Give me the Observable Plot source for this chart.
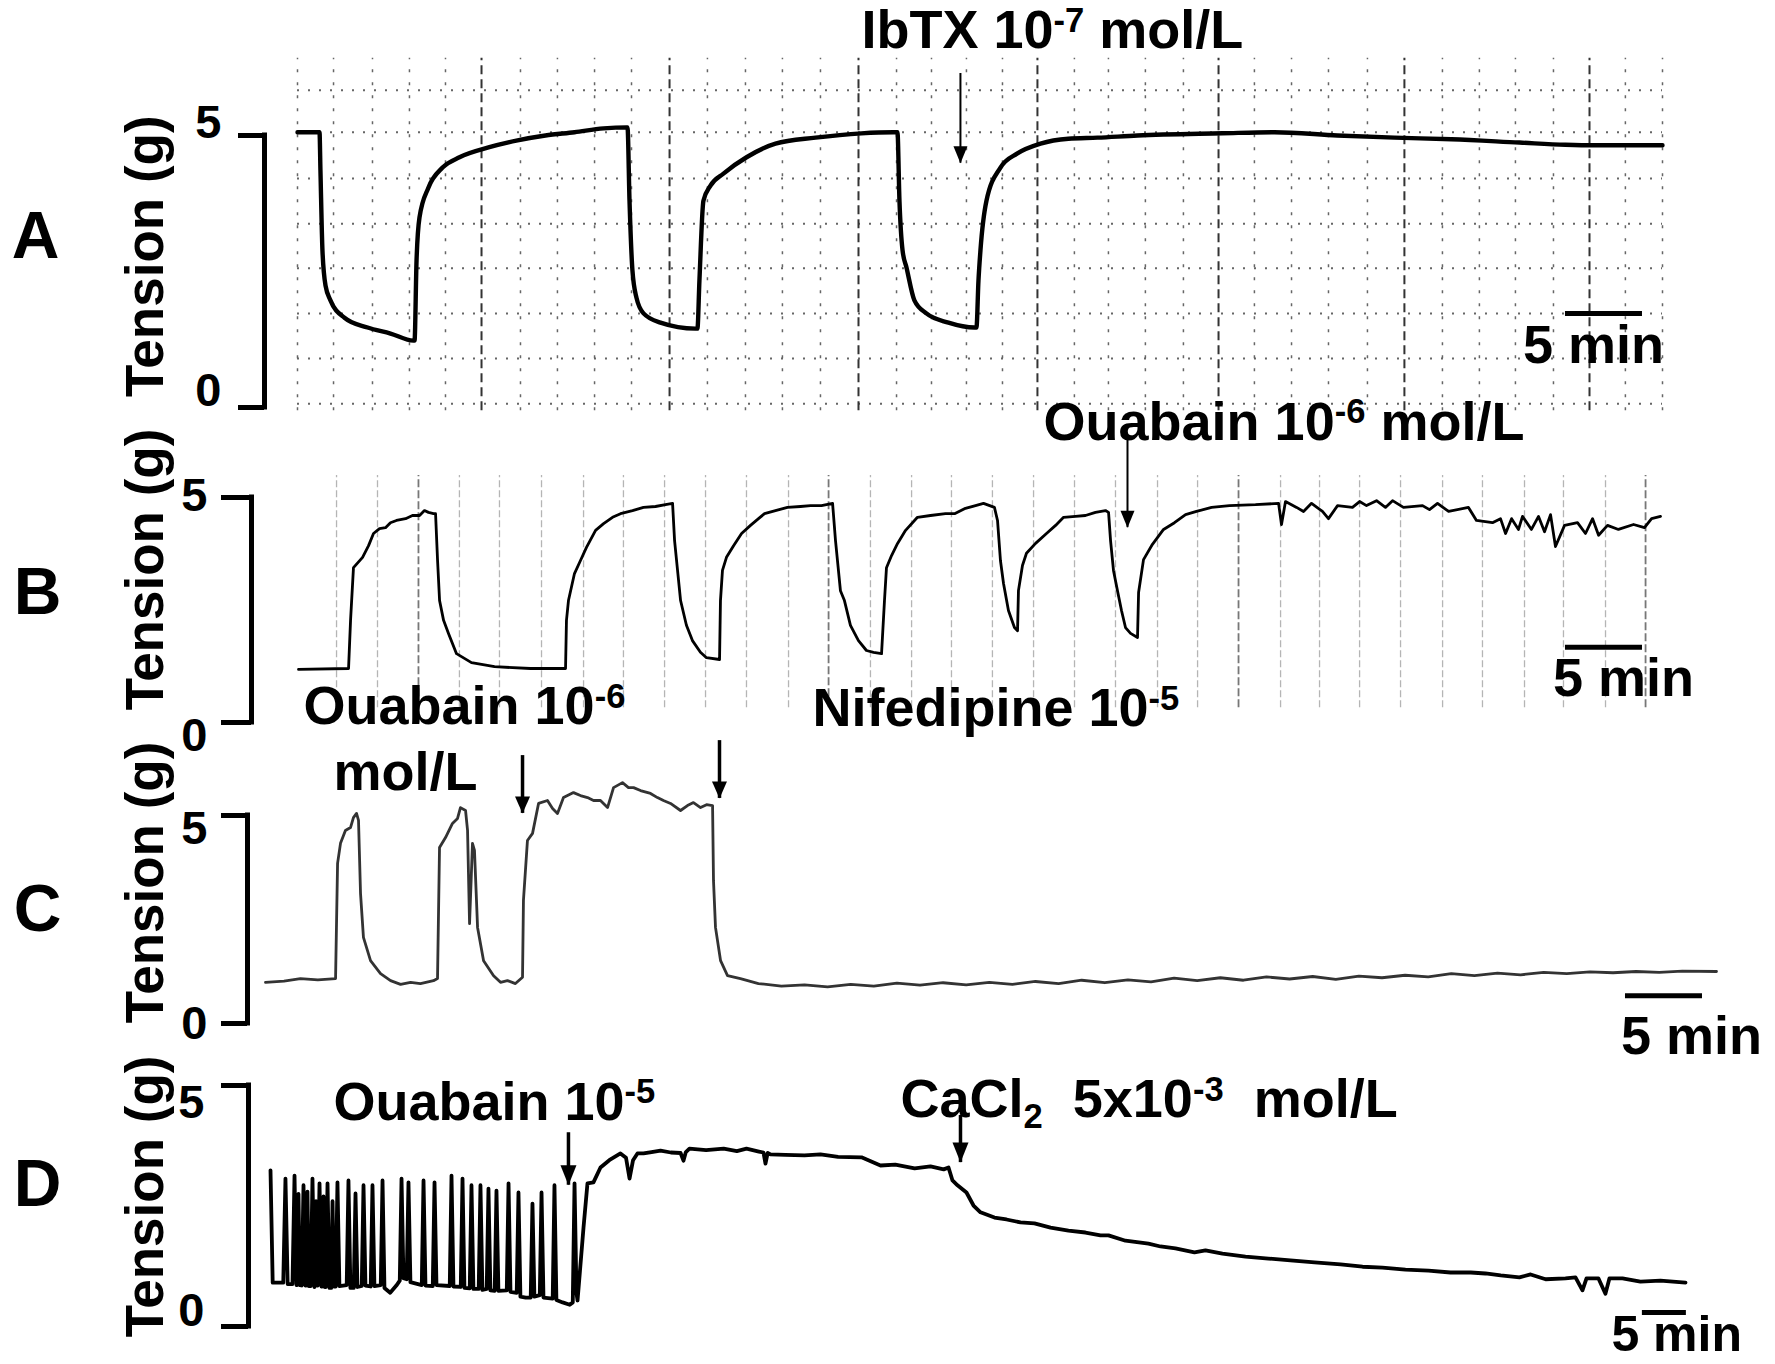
<!DOCTYPE html>
<html><head><meta charset="utf-8">
<script src="https://cdn.jsdelivr.net/npm/d3@7"></script>
<script src="https://cdn.jsdelivr.net/npm/@observablehq/plot@0.6"></script>
<style>
html,body{margin:0;padding:0;background:#fff;}
#fig{position:relative;width:1775px;height:1364px;overflow:hidden;background:#fff;}
#fig svg{position:absolute;left:0;top:0;overflow:visible;max-width:none;}
</style></head><body><div id="fig"></div>
<script>
const FONT = '"Liberation Sans", Arial, Helvetica, sans-serif';

// ---------------- DATA (time in min, tension in g) ----------------
const traceA = [[0,5.06],[1.43,5.06],[1.49,4.36],[1.62,2.89],[1.82,2.24],[2.14,1.97],[3.05,1.65],[4.55,1.47],[6.04,1.36],[7.53,1.23],
 [7.6,1.23],[7.73,2.7],[7.92,3.49],[8.5,4.04],[9.42,4.41],[10.52,4.6],[12.4,4.78],[14.29,4.91],[16.1,5.0],[17.99,5.06],[19.87,5.13],[21.36,5.15],
 [21.43,5.15],[21.56,3.8],[21.75,2.52],[22.01,2.02],[22.47,1.73],[23.57,1.56],[25.84,1.45],
 [25.97,1.45],[26.1,2.33],[26.36,3.8],[26.82,4.08],[27.66,4.3],[29.16,4.6],[31.04,4.85],[33.64,4.96],[36.62,5.04],[38.7,5.06],
 [38.96,5.06],[39.09,3.8],[39.29,2.89],[39.55,2.57],[40.06,1.97],[40.84,1.73],[42.27,1.56],[43.96,1.47],
 [44.09,1.47],[44.22,2.33],[44.35,2.89],[44.74,3.8],[45.65,4.41],[46.75,4.67],[48.25,4.85],[50.06,4.94],[51.95,4.96],[54.55,5.0],
 [60.06,5.04],[63.44,5.06],[67.53,5.0],[71.23,4.96],[74.94,4.93],[79.35,4.87],[82.34,4.83],[84.16,4.82],[88.64,4.82]];

const traceB = [[0,1.18],[3.25,1.2],[3.38,2.27],[3.57,3.44],[4.16,3.67],[4.55,3.93],[4.87,4.2],[5.26,4.31],[5.65,4.33],[5.97,4.44],[6.36,4.49],
 [6.95,4.53],[7.4,4.6],[7.86,4.6],[8.18,4.71],[8.44,4.67],[8.77,4.64],[8.9,4.64],[9.03,3.6],[9.16,2.71],[9.42,2.27],[9.74,1.98],[10.26,1.53],
 [11.23,1.33],[12.73,1.24],[15.06,1.2],[17.34,1.2],[17.4,2.27],[17.53,2.71],[17.92,3.31],[18.31,3.6],[18.7,3.89],[19.29,4.27],[19.81,4.42],
 [20.39,4.56],[20.91,4.64],[21.69,4.71],[22.4,4.78],[23.18,4.8],[23.83,4.84],[24.29,4.87],[24.42,4.04],[24.81,2.71],[25.19,2.16],[25.58,1.82],
 [26.1,1.56],[26.49,1.44],[27.34,1.4],[27.4,2.71],[27.53,3.38],[27.79,3.67],[28.25,3.93],[28.77,4.2],[29.35,4.38],[29.87,4.53],[30.26,4.64],
 [30.97,4.71],[31.75,4.78],[32.6,4.8],[33.25,4.82],[33.96,4.82],[34.68,4.87],[34.87,4.04],[35.19,2.93],[35.45,2.71],[35.84,2.16],[36.36,1.82],
 [36.88,1.6],[37.34,1.56],[37.86,1.53],[38.05,2.71],[38.18,3.44],[38.51,3.71],[38.9,3.98],[39.42,4.27],[40.19,4.56],[41.04,4.6],[42.01,4.64],
 [42.6,4.64],[43.31,4.76],[43.96,4.82],[44.48,4.87],[45.19,4.78],[45.39,4.49],[45.58,3.6],[45.78,3.09],[46.1,2.49],[46.49,2.11],[46.69,2.04],
 [46.75,2.93],[47.01,3.49],[47.27,3.76],[47.86,3.98],[48.57,4.2],[49.16,4.38],[49.68,4.56],[50.45,4.58],[51.1,4.6],[51.75,4.67],[52.4,4.71],
 [52.6,4.67],[52.73,4.04],[52.92,3.38],[53.18,2.93],[53.44,2.49],[53.7,2.11],[54.03,1.98],[54.48,1.89],[54.55,2.89],[54.87,3.62],[55.45,3.96],
 [56.17,4.29],[56.88,4.44],[57.6,4.62],[58.31,4.69],[59.29,4.78],[60.45,4.82],[62.14,4.84],[63.64,4.87],[63.83,4.4],[64.09,4.91],[64.81,4.78],
 [65.26,4.69],[65.78,4.87],[66.49,4.69],[66.88,4.53],[67.47,4.82],[68.44,4.78],[68.9,4.91],[69.35,4.82],[70.0,4.93],[70.58,4.78],[71.04,4.93],
 [71.75,4.78],[72.99,4.82],[73.44,4.73],[73.96,4.87],[74.68,4.69],[75.97,4.78],[76.49,4.49],[77.53,4.44],[78.05,4.53],[78.38,4.2],[78.77,4.53],
 [79.22,4.29],[79.48,4.58],[80.06,4.29],[80.52,4.58],[80.91,4.24],[81.3,4.62],[81.62,3.91],[82.21,4.38],[83.05,4.44],[83.57,4.2],[84.03,4.53],
 [84.42,4.16],[85.0,4.38],[85.71,4.29],[86.69,4.4],[87.4,4.33],[87.86,4.53],[88.44,4.58]];

const traceC = [[0,0.99],[1.2,1.02],[2.27,1.08],[3.4,1.05],[4.55,1.08],[4.68,3.85],[4.87,4.33],[5.19,4.64],[5.52,4.71],[5.71,4.95],[5.91,5.05],
 [6.04,4.88],[6.17,3.13],[6.36,2.07],[6.82,1.51],[7.47,1.2],[8.12,1.03],[8.77,0.94],[9.42,0.99],[10.06,0.96],[10.91,1.03],[11.17,1.08],
 [11.3,4.23],[11.69,4.47],[12.14,4.81],[12.47,4.93],[12.66,5.19],[12.99,5.12],[13.12,4.64],[13.25,2.4],[13.44,4.33],[13.57,4.16],[13.77,2.31],
 [14.16,1.51],[14.81,1.15],[15.26,0.99],[15.71,1.03],[16.23,0.96],[16.69,1.11],[16.75,2.96],[17.01,4.4],[17.34,4.57],[17.73,5.29],[18.31,5.36],
 [18.64,5.17],[18.96,5.05],[19.35,5.43],[20.0,5.55],[20.45,5.48],[20.91,5.43],[21.3,5.36],[21.75,5.36],[22.21,5.19],[22.6,5.67],[23.18,5.79],
 [23.57,5.67],[23.9,5.67],[24.35,5.6],[25.0,5.53],[25.45,5.43],[25.84,5.36],[26.3,5.29],[26.95,5.12],[27.4,5.24],[27.79,5.31],[28.25,5.19],
 [28.64,5.26],[29.03,5.24],[29.09,3.44],[29.22,2.31],[29.55,1.51],[30.0,1.15],[30.84,1.08],[32.01,0.96],[33.5,0.9],[35.0,0.93],[36.5,0.88],
 [38.0,0.94],[39.5,0.9],[41.0,0.97],[42.5,0.92],[44.0,0.98],[45.5,0.93],[47.0,0.99],[48.5,0.94],[50.0,1.01],[51.5,0.96],[53.0,1.04],[54.5,0.98],
 [56.0,1.05],[57.5,1.0],[59.0,1.09],[60.5,1.03],[62.0,1.1],[63.5,1.04],[65.0,1.12],[66.5,1.07],[68.0,1.13],[69.5,1.06],[71.0,1.14],[72.5,1.1],
 [74.0,1.16],[75.5,1.12],[77.0,1.2],[78.5,1.15],[80.0,1.21],[81.5,1.17],[83.0,1.23],[84.5,1.2],[86.0,1.24],[87.5,1.22],[89.0,1.25],[90.5,1.23],
 [92.0,1.26],[94.22,1.25]];

const traceD = [[0,3.24],[0.25,0.91],[1.45,0.91],[1.7,3.07],[1.95,0.88],[2.5,0.88],[2.73,3.13],[2.95,0.86],[3.03,0.86],[3.18,2.75],[3.33,0.86],
 [3.55,0.85],[3.75,2.93],[3.97,0.85],[4.05,0.85],[4.2,2.8],[4.35,0.84],[4.57,0.84],[4.77,3.07],[4.99,0.82],[5.02,0.83],[5.17,2.6],[5.32,0.85],
 [5.37,0.85],[5.57,2.97],[5.79,0.83],[5.87,0.83],[6.02,2.7],[6.17,0.82],[6.28,0.82],[6.48,2.97],[6.7,0.8],[6.9,0.8],[7.05,2.6],[7.2,0.83],
 [7.41,0.83],[7.61,2.99],[7.83,0.84],[8.66,0.86],[8.86,3.03],[9.08,0.8],[9.46,0.8],[9.66,2.76],[9.88,0.82],[10.37,0.84],[10.57,2.93],[10.79,0.85],
 [11.39,0.83],[11.59,2.93],[11.81,0.84],[12.53,0.86],[12.73,3.03],[12.95,0.8],[13.6,0.7],[14.3,0.85],[14.69,0.95],[14.89,3.07],[15.11,1.0],
 [15.48,0.98],[15.68,2.99],[15.9,0.92],[17.19,0.86],[17.39,3.03],[17.61,0.85],[18.44,0.84],[18.64,2.99],[18.86,0.86],[20.37,0.84],[20.57,3.13],
 [20.79,0.83],[21.62,0.82],[21.82,3.07],[22.04,0.8],[22.64,0.79],[22.84,2.93],[23.06,0.78],[23.66,0.78],[23.86,2.93],[24.08,0.76],[24.57,0.78],
 [24.77,2.86],[24.99,0.75],[25.48,0.74],[25.68,2.82],[25.9,0.74],[26.85,0.75],[27.05,2.97],[27.27,0.72],[27.98,0.7],[28.18,2.78],[28.4,0.62],
 [29.0,0.6],[29.57,0.6],[29.77,2.55],[29.99,0.62],[30.6,0.65],[30.8,2.78],[31.02,0.6],[32.07,0.58],[32.27,2.93],[32.49,0.55],[33.2,0.5],
 [34.0,0.45],[34.35,0.5],[34.55,2.97],[34.77,0.7],[34.89,0.54],[35.45,1.78],[35.57,2.05],[36.02,2.97],[36.7,2.99],[37.5,3.3],[38.5,3.45],
 [39.77,3.59],[40.4,3.5],[40.8,3.07],[41.2,3.45],[41.7,3.59],[42.39,3.59],[43.3,3.62],[44.32,3.65],[45.5,3.61],[46.6,3.6],[46.93,3.44],
 [47.2,3.62],[47.61,3.69],[49.5,3.66],[51.5,3.69],[53.0,3.64],[54.09,3.69],[55.5,3.63],[56.02,3.61],[56.25,3.38],[56.5,3.6],[56.82,3.57],
 [58.5,3.56],[60.68,3.55],[62.5,3.57],[64.5,3.52],[67.16,3.51],[69.32,3.34],[71.0,3.36],[73.2,3.28],[75.0,3.32],[76.5,3.26],[77.05,3.3],
 [77.5,3.03],[78.07,2.93],[79.09,2.78],[79.89,2.51],[80.68,2.37],[82.27,2.26],[83.64,2.22],[85.23,2.16],[86.82,2.14],[88.64,2.05],[90.68,1.99],
 [92.61,1.95],[94.32,1.89],[95.23,1.89],[97.16,1.78],[99.77,1.72],[101.14,1.66],[102.84,1.62],[105.0,1.54],[106.25,1.58],[108.18,1.51],
 [110.8,1.45],[113.41,1.41],[115.9,1.37],[118.64,1.33],[121.6,1.29],[124.1,1.24],[126.36,1.22],[128.98,1.18],[131.59,1.16],[134.1,1.12],
 [136.4,1.12],[138.07,1.1],[139.8,1.06],[141.93,1.02],[143.2,1.08],[144.9,0.98],[147.16,1.0],[148.3,1.02],[149.09,0.75],[149.55,1.0],
 [150.9,1.0],[151.7,0.68],[152.16,1.0],[153.64,1.0],[155.68,0.93],[157.95,0.95],[160.8,0.91]];

// chart-paper grid lines (A: dotted paper grid, B: faint divisions)
const gridAx = [0,2.34,4.87,7.27,9.61,14.48,16.88,19.29,21.69,26.62,29.09,31.49,33.96,38.9,41.17,43.44,45.78,50.45,52.66,55.06,57.53,
 62.14,64.55,66.95,69.48,74.35,76.75,79.09,81.56,86.23,88.64];
const gridAxMajor = [11.95,24.16,36.43,48.05,59.81,71.88,83.9];
const gridAy = [5.83,5.06,4.21,3.38,2.56,1.73,0.9,0.07];
const gridBx = [2.47,5.13,10.45,13.05,15.78,18.51,21.1,23.77,26.43,29.09,31.82,37.14,39.81,42.4,45.06,47.73,50.39,53.05,55.78,58.38,
 63.77,66.3,68.9,71.56,74.29,76.88,79.61,82.14,84.87];
const gridBxMajor = [7.79,34.42,61.04,87.47];

const yTicks = [0, 5];
const panelLetters = ["A", "B", "C", "D"];
const yLabel = "Tension (g)";
const scaleText = "5 min";
const labelsA = ["IbTX 10^{-7} mol/L"];
const labelsB = ["Ouabain 10^{-6} mol/L"];
const labelsC = ["Ouabain 10^{-6}", "mol/L", "Nifedipine 10^{-5}"];
const labelsD = ["Ouabain 10^{-5}", "CaCl_{2}\u00a0\u00a05x10^{-3}\u00a0\u00a0mol/L"];

// ---------------- LAYOUT ----------------
const panels = [
 {letter: 0, bx: 264, y5: 135, y0: 407, xDomain: [0, 88.64], xRange: [297, 1662], tick: 26, labelRight: 221, dy: [-17, -13],
  yLabelDx: -118, yLabelG: 2.78, letterDx: -229, letterG: 3.14, trace: traceA, color: "#000", width: 4.4, curve: "monotone-x",
  labels: labelsA.map((text, i) => ({text, t: [36.62][i], g: [6.93][i]})),
  arrows: [{t: 43.05, g1: 6.14, g2: 4.49}], arrowW: 2, head: [14, 17],
  bar: {t1: 82.34, t2: 87.34, g: 1.73, tt: 84.16, gt: 1.14, fs: 54}, grid: "A"},
 {letter: 1, bx: 251, y5: 497, y0: 722, xDomain: [0, 88.44], xRange: [298, 1660], tick: 30, labelRight: 207, dy: [13, -2],
  yLabelDx: -105, yLabelG: 3.4, letterDx: -214, letterG: 2.87, trace: traceB, color: "#000", width: 2.8, curve: "linear",
  labels: labelsB.map((text, i) => ({text, t: [48.38][i], g: [6.67][i]})),
  arrows: [{t: 53.83, g1: 6.33, g2: 4.33}], arrowW: 2, head: [14, 17],
  bar: {t1: 82.27, t2: 87.27, g: 1.67, tt: 86.04, gt: 0.98, fs: 54}, grid: "B"},
 {letter: 2, bx: 247, y5: 815, y0: 1023, xDomain: [0, 94.22], xRange: [265, 1716], tick: 26, labelRight: 207, dy: [0, 13],
  yLabelDx: -101, yLabelG: 3.39, letterDx: -210, letterG: 2.72, trace: traceC, color: "#333", width: 2.8, curve: "linear",
  labels: labelsC.map((text, i) => ({text, t: [2.47, 4.42, 35.52][i], g: [7.62, 6.03, 7.57][i]})),
  arrows: [{t: 16.69, g1: 6.44, g2: 5.05}, {t: 29.48, g1: 6.8, g2: 5.41}], arrowW: 3.5, head: [15, 17],
  bar: {t1: 88.31, t2: 93.31, g: 0.67, tt: 92.6, gt: -0.31, fs: 54}, grid: null},
 {letter: 3, bx: 248, y5: 1085, y0: 1326, xDomain: [0, 160.8], xRange: [270, 1685], tick: 27, labelRight: 204, dy: [-16, 17],
  yLabelDx: -102, yLabelG: 2.7, letterDx: -211, letterG: 2.93, trace: traceD, color: "#000", width: 3.8, curve: "linear",
  labels: labelsD.map((text, i) => ({text, t: [7.16, 71.59][i], g: [4.65, 4.71][i]})),
  arrows: [{t: 33.86, g1: 4.02, g2: 2.93}, {t: 78.41, g1: 4.38, g2: 3.4}], arrowW: 3.5, head: [16, 20],
  bar: {t1: 155.9, t2: 160.9, g: 0.29, tt: 159.8, gt: -0.17, fs: 50}, grid: null}
];

function headSymbol(w, h) {
  return {draw(ctx) { ctx.moveTo(0, 0); ctx.lineTo(-w / 2, -h); ctx.lineTo(w / 2, -h); ctx.closePath(); }};
}

function makePanel(P) {
  const toPx = d3.scaleLinear().domain(P.xDomain).range(P.xRange);
  const tBracket = toPx.invert(P.bx);
  const txt = {fontFamily: FONT, fontWeight: "bold", fill: "#000"};
  const marks = [];
  if (P.grid === "A") {
    marks.push(Plot.ruleY(gridAy, {x1: P.xDomain[0], x2: P.xDomain[1], stroke: "#666", strokeWidth: 2, strokeDasharray: "2,9"}));
    marks.push(Plot.ruleX(gridAx, {y1: -0.06, y2: 6.42, stroke: "#666", strokeWidth: 1.5, strokeDasharray: "3,10"}));
    marks.push(Plot.ruleX(gridAxMajor, {y1: -0.06, y2: 6.42, stroke: "#333", strokeWidth: 2, strokeDasharray: "9,5"}));
  }
  if (P.grid === "B") {
    marks.push(Plot.ruleX(gridBx, {y1: 0.33, y2: 5.49, stroke: "#b5b5b5", strokeWidth: 1.3, strokeDasharray: "7,3"}));
    marks.push(Plot.ruleX(gridBxMajor, {y1: 0.33, y2: 5.49, stroke: "#777", strokeWidth: 1.8, strokeDasharray: "8,3"}));
  }
  const tickLabels = yTicks.map((v, i) => ({v, dy: P.dy[i]}));
  marks.push(
    Plot.line(P.trace, {x: d => d[0], y: d => d[1], stroke: P.color, strokeWidth: P.width, curve: P.curve,
      strokeLinejoin: "round", strokeLinecap: "round"}),
    // bracket-style y axis
    Plot.ruleX([tBracket], {y1: 0, y2: 5, stroke: "#000", strokeWidth: 5, strokeLinecap: "square"}),
    Plot.axisY({ticks: yTicks, tickSize: P.tick, strokeWidth: 5, stroke: "#000", fill: "none", label: null}),
    ...tickLabels.map(d => Plot.text([d], {y: "v", text: e => String(e.v), frameAnchor: "left", dx: P.labelRight - P.bx, dy: d.dy,
      textAnchor: "end", fontSize: 47, ...txt})),
    Plot.text([yLabel], {frameAnchor: "left", y: () => P.yLabelG, dx: P.yLabelDx, rotate: -90, textAnchor: "middle", fontSize: 53, ...txt}),
    Plot.text([panelLetters[P.letter]], {frameAnchor: "left", y: () => P.letterG, dx: P.letterDx, textAnchor: "middle", fontSize: 66, ...txt}),
    // annotations
    Plot.text(P.labels, {x: "t", y: "g", text: "text", textAnchor: "start", fontSize: 54, ...txt}),
    Plot.ruleX(P.arrows, {x: "t", y1: "g1", y2: "g2", stroke: "#000", strokeWidth: P.arrowW}),
    Plot.dot(P.arrows, {x: "t", y: "g2", symbol: headSymbol(P.head[0], P.head[1]), fill: "#000", stroke: "none", r: 6}),
    // time scale bar
    Plot.ruleY([P.bar], {y: "g", x1: "t1", x2: "t2", stroke: "#000", strokeWidth: 5}),
    Plot.text([P.bar], {x: "tt", y: "gt", text: () => scaleText, textAnchor: "middle", fontSize: P.bar.fs, ...txt})
  );
  return Plot.plot({
    width: 1775, height: 1364,
    marginLeft: P.bx, marginRight: 20, marginTop: P.y5, marginBottom: 1364 - P.y0,
    x: {domain: P.xDomain, range: P.xRange, axis: null},
    y: {domain: [0, 5]},
    style: {background: "transparent", overflow: "visible", fontFamily: FONT},
    marks
  });
}

// super/subscript markup -> real tspans
function richify(svg) {
  const NS = "http://www.w3.org/2000/svg";
  svg.querySelectorAll("text").forEach(t => {
    const s = t.textContent;
    if (!/[\^_]\{/.test(s)) return;
    const host = t.closest("[font-size]");
    const fs = host ? parseFloat(host.getAttribute("font-size")) : 50;
    while (t.firstChild) t.removeChild(t.firstChild);
    const re = /([\^_])\{([^}]*)\}/g;
    let last = 0, m, shift = 0;
    const add = (str, kind) => {
      const ts = document.createElementNS(NS, "tspan");
      const target = kind === "^" ? -0.3 * fs : kind === "_" ? 0.2 * fs : 0;
      ts.setAttribute("dy", (target - shift).toFixed(2));
      shift = target;
      if (kind) ts.setAttribute("font-size", (0.64 * fs).toFixed(1));
      ts.textContent = str;
      t.appendChild(ts);
    };
    while ((m = re.exec(s))) {
      if (m.index > last) add(s.slice(last, m.index), null);
      add(m[2], m[1]);
      last = re.lastIndex;
    }
    if (last < s.length) add(s.slice(last), null);
  });
}

const fig = document.getElementById("fig");
for (const P of panels) {
  const svg = makePanel(P);
  richify(svg);
  fig.appendChild(svg);
}
</script></body></html>
